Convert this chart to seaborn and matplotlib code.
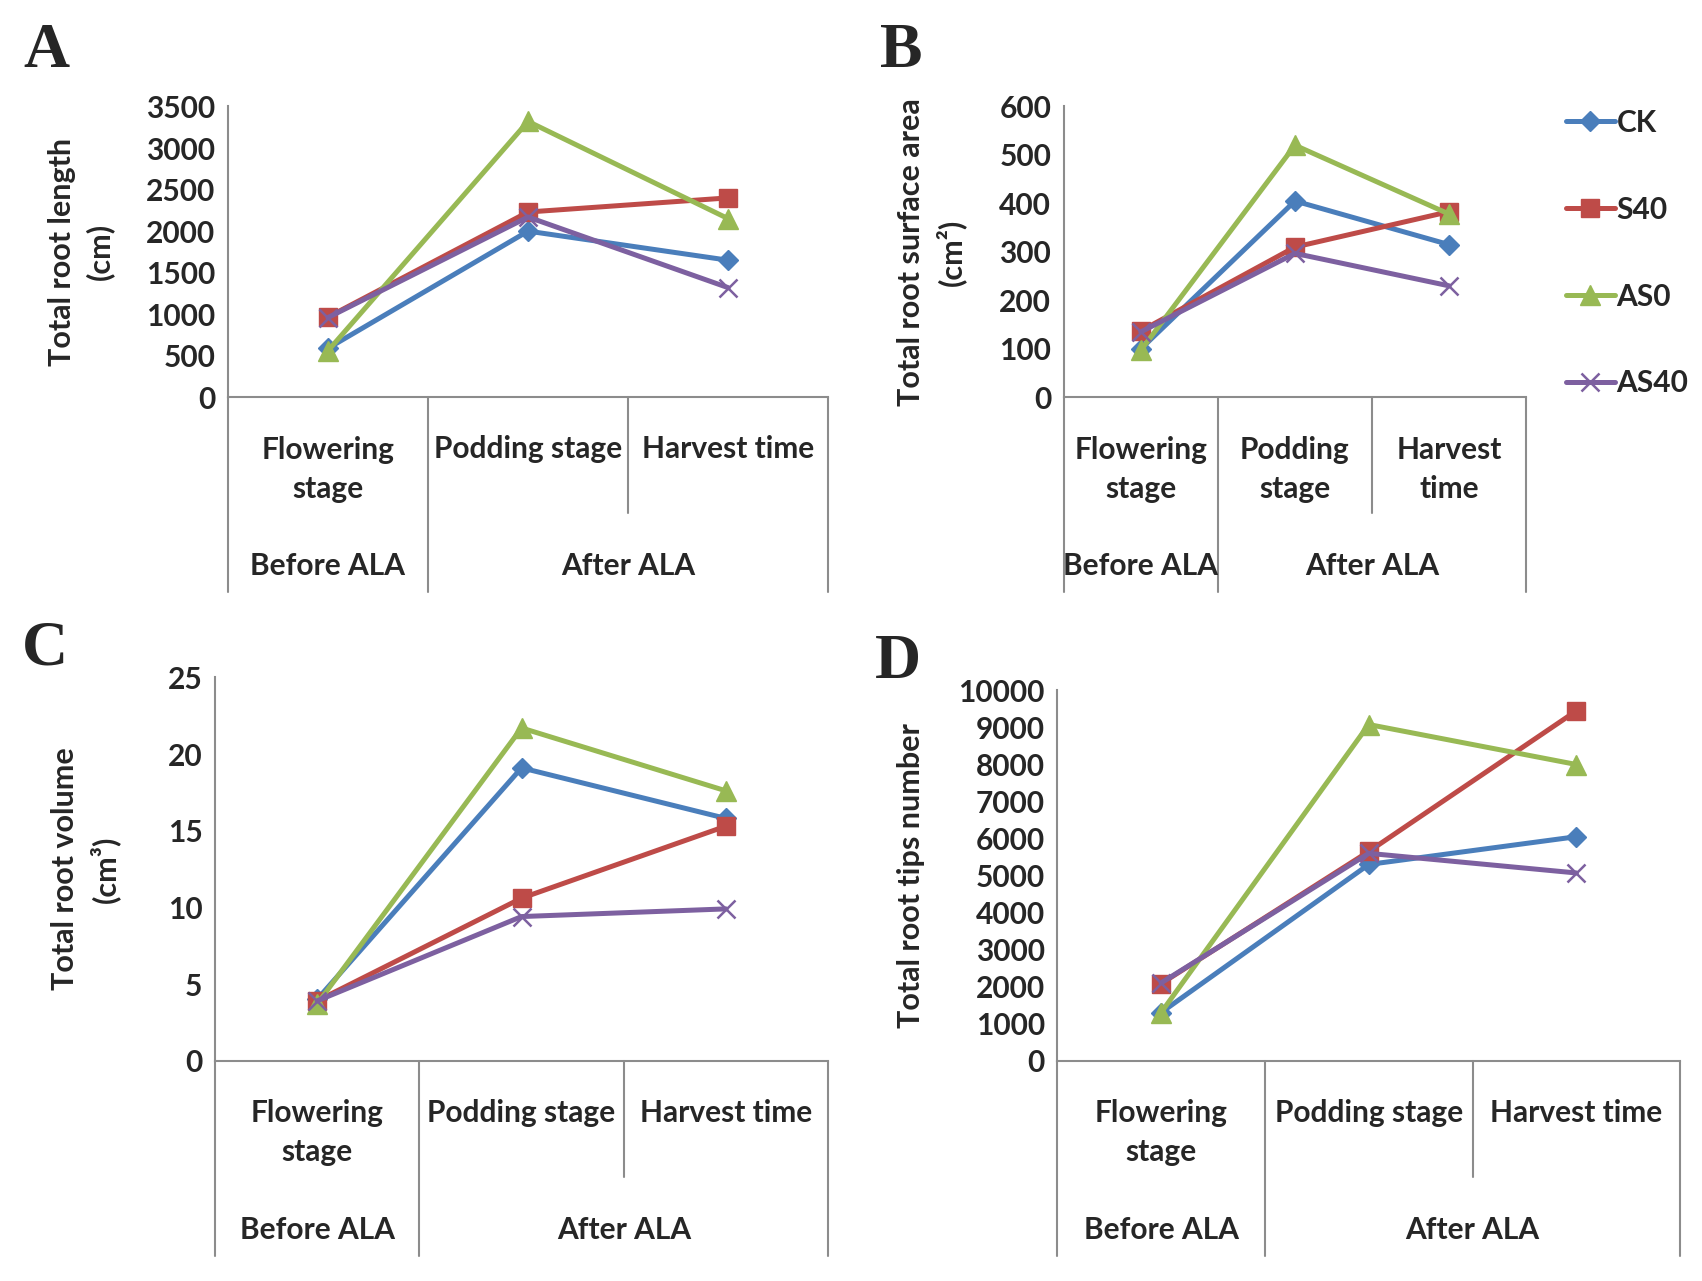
"""
Root morphology of four treatments across three growth stages (panels A-D).
"""

import matplotlib
matplotlib.use("Agg")
import matplotlib.pyplot as plt
import pandas as pd
import seaborn as sns

# Data
TREATMENTS = ["CK", "S40", "AS0", "AS40"]
STAGES_WIDE = ["Flowering\nstage", "Podding stage", "Harvest time"]
STAGES_NARROW = ["Flowering\nstage", "Podding\nstage", "Harvest\ntime"]
GROUPS = ["Before ALA", "After ALA"]

length_ck = [590, 2000, 1650]
length_s40 = [966, 2230, 2400]
length_as0 = [560, 3320, 2150]
length_as40 = [960, 2170, 1320]

area_ck = [100, 405, 315]
area_s40 = [137, 310, 383]
area_as0 = [97, 520, 378]
area_as40 = [135, 297, 230]

volume_ck = [4.0, 19.1, 15.8]
volume_s40 = [3.9, 10.6, 15.3]
volume_as0 = [3.7, 21.7, 17.6]
volume_as40 = [3.9, 9.4, 9.9]

tips_ck = [1300, 5300, 6050]
tips_s40 = [2080, 5650, 9450]
tips_as0 = [1300, 9080, 8000]
tips_as40 = [2100, 5600, 5070]

COLORS = {"CK": "#4A7EBB", "S40": "#BE4B48", "AS0": "#98B954", "AS40": "#7D60A0"}
# seaborn won't mix filled and line markers, so AS40 is swapped to "x" afterwards
SNS_MARKERS = {"CK": "D", "S40": "s", "AS0": "^", "AS40": "o"}
FINAL_MARKERS = {"CK": "D", "S40": "s", "AS0": "^", "AS40": "x"}
MARKER_SIZES = {"CK": 10.5, "S40": 13, "AS0": 14, "AS40": 13}

sns.set_style("white")
plt.rcParams["font.family"] = ["Lato", "DejaVu Sans"]
plt.rcParams["font.weight"] = "bold"
plt.rcParams["axes.labelweight"] = "bold"

FS = 21.5
GRAY = "#8C8C8C"


def long_frame(series):
    rows = []
    for name, vals in zip(TREATMENTS, series):
        for pos, v in enumerate(vals):
            rows.append({"stage": pos, "value": v, "treatment": name})
    return pd.DataFrame(rows)


def draw_panel(fig, ax, series, ymax, ystep, stage_labels, ylabel, labelpad):
    df = long_frame(series)
    sns.lineplot(data=df, x="stage", y="value", hue="treatment", style="treatment",
                 hue_order=TREATMENTS, style_order=TREATMENTS, palette=COLORS,
                 markers=SNS_MARKERS, dashes=False, linewidth=3.6, legend=False, ax=ax)
    for line, name in zip(ax.lines, TREATMENTS):
        line.set_marker(FINAL_MARKERS[name])
        line.set_markersize(MARKER_SIZES[name])
        line.set_markeredgecolor(COLORS[name])
        line.set_markerfacecolor(COLORS[name])
        line.set_markeredgewidth(1.8 if name == "AS40" else 1.0)

    ax.set_xlim(-0.5, 2.5)
    ax.set_ylim(0, ymax)
    ax.set_yticks(range(0, ymax + 1, ystep))
    ax.set_xticks([])
    ax.set_xlabel("")
    ax.set_ylabel(ylabel, fontsize=22, fontweight="bold", labelpad=labelpad,
                  linespacing=1.4)
    ax.tick_params(axis="y", length=6, width=1.3, color=GRAY, direction="out",
                   pad=3, labelsize=FS)
    for t in ax.get_yticklabels():
        t.set_fontweight("bold")
    for side in ["top", "right"]:
        ax.spines[side].set_visible(False)
    for side in ["left", "bottom"]:
        ax.spines[side].set_color(GRAY)
        ax.spines[side].set_linewidth(1.5)

    # table-like category area below the axis
    h_px = ax.get_position().height * fig.get_figheight() * fig.dpi
    full = -195 / h_px
    short = -116 / h_px
    for xpos, bottom in [(-0.5, full), (0.5, full), (1.5, short), (2.5, full)]:
        ax.plot([xpos, xpos], [0, bottom], color=GRAY, lw=1.5, clip_on=False,
                transform=ax.get_xaxis_transform())
    for pos, lab in enumerate(stage_labels):
        off = 72 if "\n" in lab else 52
        ax.text(pos, -off / h_px, lab, ha="center", va="center", fontsize=FS,
                fontweight="bold", linespacing=1.5, transform=ax.get_xaxis_transform())
    ax.text(0, -169 / h_px, GROUPS[0], ha="center", va="center", fontsize=FS,
            fontweight="bold", transform=ax.get_xaxis_transform())
    ax.text(1.5, -169 / h_px, GROUPS[1], ha="center", va="center", fontsize=FS,
            fontweight="bold", transform=ax.get_xaxis_transform())


def main():
    fig = plt.figure(figsize=(17.02, 12.81), dpi=100)
    ax_a = fig.add_axes([0.1339, 0.6898, 0.3527, 0.2271])
    ax_b = fig.add_axes([0.6250, 0.6898, 0.2717, 0.2271])
    ax_c = fig.add_axes([0.1263, 0.1720, 0.3603, 0.2992])
    ax_d = fig.add_axes([0.6212, 0.1720, 0.3660, 0.2890])

    draw_panel(fig, ax_a, [length_ck, length_s40, length_as0, length_as40], 3500, 500,
               STAGES_WIDE, "Total root length\n(cm)", 23)
    draw_panel(fig, ax_b, [area_ck, area_s40, area_as0, area_as40], 600, 100,
               STAGES_NARROW, "Total root surface area\n(cm²)", 24)
    draw_panel(fig, ax_c, [volume_ck, volume_s40, volume_as0, volume_as40], 25, 5,
               STAGES_WIDE, "Total root volume\n(cm³)", 34)
    draw_panel(fig, ax_d, [tips_ck, tips_s40, tips_as0, tips_as40], 10000, 1000,
               STAGES_WIDE, "Total root tips number", 24)

    fig.legend(handles=ax_b.lines[:4], labels=TREATMENTS, loc="upper left",
               bbox_to_anchor=(0.920, 0.915), frameon=False,
               labelspacing=1.97, handlelength=1.65, handletextpad=0.05,
               borderpad=0, borderaxespad=0, prop={"weight": "bold", "size": FS})

    letter_kw = dict(fontsize=46, fontweight="bold", va="baseline",
                     family=["Liberation Serif", "DejaVu Serif"])
    fig.text(0.014, 0.9475, "A", **letter_kw)
    fig.text(0.517, 0.9475, "B", **letter_kw)
    fig.text(0.013, 0.4814, "C", **letter_kw)
    fig.text(0.514, 0.4710, "D", **letter_kw)

    fig.savefig("out.png", dpi=100)


if __name__ == "__main__":
    main()
